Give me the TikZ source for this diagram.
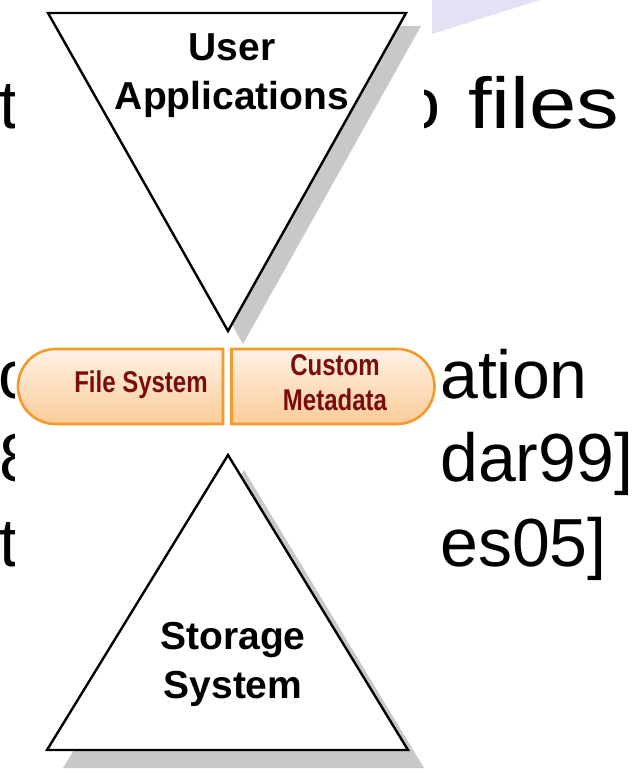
\documentclass[tikz,border=0pt]{standalone}
\usepackage{fontspec}
\setmainfont{Liberation Sans}
\newfontfamily\pillfont[FakeStretch=0.80]{Liberation Sans}
\newfontfamily\widefont[FakeStretch=1.18]{Liberation Sans}
\usetikzlibrary{shapes.misc}

\definecolor{pillorange}{HTML}{F39A2B}
\definecolor{pilltop}{HTML}{FEF2E6}
\definecolor{pillbottom}{HTML}{FBCB98}
\definecolor{labelred}{HTML}{7A0C0C}
\definecolor{shadowgray}{HTML}{C8C8C8}
\definecolor{lavender}{HTML}{E4E1F4}

\begin{document}
\begin{tikzpicture}[x=1pt, y=-1pt,
    slide/.style={inner sep=0pt, anchor=base west, font=\fontsize{68}{68}\selectfont},
    tri/.style={draw=black, line width=2.4pt, fill=white, line join=miter},
    shade/.style={fill=shadowgray},
    level/.style={inner sep=0pt, align=center, font=\fontsize{39}{49}\selectfont\bfseries},
    part/.style={rounded rectangle, draw=pillorange, line width=2.6pt,
      top color=pilltop, bottom color=pillbottom, minimum height=75pt, inner sep=0pt},
    partlabel/.style={inner sep=0pt, align=center, text=labelred,
      font=\pillfont\fontsize{30}{35}\selectfont\bfseries}]
    \useasboundingbox (0, 0) rectangle (637, 784);

    % slide text behind the picture
    \node[slide] (t1) at (-1, 128) {t};
    \node[slide, font=\fontsize{72}{72}\selectfont] (r1) at (400, 128) {o};
    \node[slide, font=\widefont\fontsize{72}{72}\selectfont] (r1b) at (468, 128) {files};
    \node[slide] (t2) at (-2, 398) {c};
    \node[slide] (r2) at (440, 398) {ation};
    \node[slide] (t3) at (-1, 481) {8};
    \node[slide] (r3) at (440, 481) {dar99]};
    \node[slide] (t4) at (-1, 566) {t};
    \node[slide] (r4) at (440, 566) {es05]};
    \fill[lavender] (432, 0) -- (540, 0) -- (432, 34) -- cycle;

    % the picture
    \fill[white] (15, 0) rectangle (424, 784);
    \fill[shade] (63, 26) -- (421, 26) -- (243, 344) -- cycle;
    \draw[tri] (48, 13) -- (406, 13) -- (228, 331) -- cycle;
    \fill[shade] (244, 470) -- (424, 768) -- (63, 768) -- cycle;
    \draw[tri] (228, 455) -- (408, 750) -- (47, 750) -- cycle;

    \node[level] (apps) at (232, 76) {User\\Applications};
    \node[level] (store) at (233, 664) {Storage\\System};

    \node[part, rounded rectangle east arc=none, minimum width=205pt] (fsys) at (120.5, 386.5) {};
    \node[part, rounded rectangle west arc=none, minimum width=203pt] (meta) at (333, 386.5) {};
    \node[partlabel] (fslabel) at (141, 385) {File System};
    \node[partlabel] (metalabel) at (335, 383) {Custom\\Metadata};
\end{tikzpicture}
\end{document}
